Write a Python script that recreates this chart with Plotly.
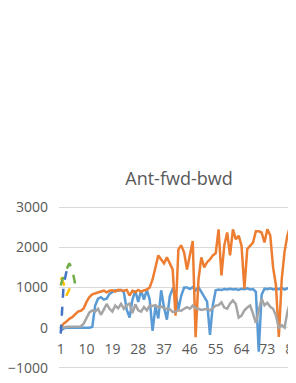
import plotly.graph_objects as go

categories = list(range(1, 85))

orange = [0, 100, 150, 220, 260, 330, 400, 420, 480, 640,
          760, 830, 860, 880, 900, 920, 880, 920, 930, 900,
          940, 930, 920, 940, 800, 920, 880, 940, 900, 930,
          950, 1000, 1200, 1500, 1800, 1700, 1600, 1750, 1600, 1450,
          300, 1950, 2050, 1870, 1450, 1800, 2160, -240, 1200, 1750,
          1500, 1630, 1700, 1800, 1850, 2450, 1300, 2050, 2370, 1800,
          2450, 2200, 2290, 2040, 970, 1960, 2040, 2120, 2400, 2400,
          2370, 2120, 2450, 2300, 1500, 1050, -230, 1200, 1900, 2300,
          2540, 2300, 2100, 2000]

blue = [-80, -20, 0, 0, 0, 0, 0, 0, 0, 0,
        0, 20, 550, 720, 760, 700, 720, 840, 880, 930,
        920, 940, 880, 450, 250, 700, 920, 640, 930, 700,
        940, 700, -80, 520, 230, 930, 500, 200, 780, 960,
        880, 450, 800, 1000, 1000, 960, 1010, 930, 1010, 890,
        800, 650, -180, 560, 930, 950, 940, 960, 950, 970,
        950, 960, 940, 970, 960, 980, 950, 960, 890, -600,
        820, 970, 960, 980, 950, 970, 960, 990, 950, 980,
        960, 1000, 970, 980]

gray = [-20, 10, 20, 20, 20, 20, 20, 30, 100, 250,
        380, 430, 400, 470, 320, 450, 590, 470, 400, 550,
        480, 590, 470, 560, 600, 360, 580, 430, 400, 510,
        430, 550, 540, 560, 500, 530, 480, 470, 460, 390,
        400, 430, 420, 470, 510, 470, 550, 480, 470, 440,
        460, 470, 430, 480, 550, 560, 630, 500, 470, 600,
        680, 590, 250, 300, 430, 500, 550, 350, 120, 430,
        720, 560, 620, 520, 470, 300, 0, 60, 0, 400,
        630, 720, 680, 700]

dash_blue_x = [1, 2, 3, 4]
dash_blue = [-150, 1050, 1400, 1250]
dash_green_x = [1, 2, 3, 4, 5, 6]
dash_green = [1050, 1300, 1450, 1600, 1450, 1100]
dash_gold_x = [1, 2, 3, 4, 5]
dash_gold = [1250, 1100, 800, 950, 1150]

x_ticks = [1, 10, 19, 28, 37, 46, 55, 64, 73, 82]
y_ticks = [-1000, 0, 1000, 2000, 3000]

fig = go.Figure()
lw = 2.5
fig.add_trace(go.Scatter(x=categories, y=blue, mode="lines",
                         line=dict(color="#5B9BD5", width=lw)))
fig.add_trace(go.Scatter(x=categories, y=orange, mode="lines",
                         line=dict(color="#ED7D31", width=lw)))
fig.add_trace(go.Scatter(x=categories, y=gray, mode="lines",
                         line=dict(color="#A5A5A5", width=lw)))
fig.add_trace(go.Scatter(x=dash_gold_x, y=dash_gold, mode="lines",
                         line=dict(color="#FFC000", width=lw, dash="dash")))
fig.add_trace(go.Scatter(x=dash_blue_x, y=dash_blue, mode="lines",
                         line=dict(color="#4472C4", width=lw, dash="dash")))
fig.add_trace(go.Scatter(x=dash_green_x, y=dash_green, mode="lines",
                         line=dict(color="#70AD47", width=lw, dash="dash")))

# page body has an 8px default margin; the chart is wider than the window
# and gets cropped on the right like the reference
W, H = 320, 375
L = 51
px_per_cat = 2.87
x_end = 0.4 + (W - L) / px_per_cat
font_family = "Open Sans, Liberation Sans, sans-serif"
fig.update_layout(
    width=W, height=H,
    margin=dict(l=L, r=0, t=198, b=14, autoexpand=False),
    paper_bgcolor="white", plot_bgcolor="white",
    showlegend=False,
    title=dict(text="Ant-fwd-bwd", x=(179 - 8) / W, xanchor="center", xref="container",
               y=1 - (179 - 8) / H, yanchor="middle", yref="container",
               font=dict(family=font_family, size=18, color="#595959")),
    font=dict(family=font_family, size=14, color="#595959"),
    xaxis=dict(range=[0.4, x_end], tickvals=x_ticks, ticktext=[str(v) for v in x_ticks],
               showgrid=False, zeroline=False, showline=False, automargin=False,
               anchor="free", position=1030 / 4060, ticks="", ticklabelstandoff=11,
               tickfont=dict(size=14, color="#595959")),
    yaxis=dict(range=[-1030, 3030], tickvals=y_ticks, showgrid=True, automargin=False,
               gridcolor="#D9D9D9", gridwidth=1, zeroline=False, showline=False,
               ticks="", ticklabelstandoff=10,
               tickfont=dict(size=14, color="#595959")),
)

fig.write_html("out.html")
